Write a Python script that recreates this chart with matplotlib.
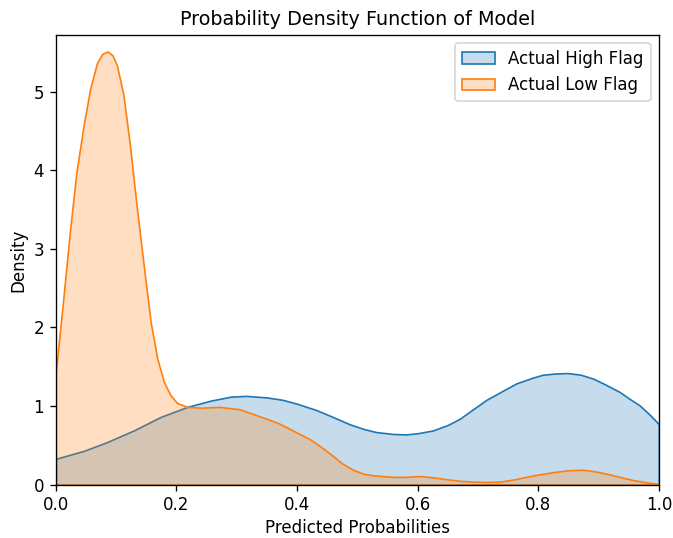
import matplotlib
matplotlib.use("Agg")
import matplotlib.pyplot as plt
import numpy as np

# density curves (x = predicted probability, y = density)
high_x = [0.0, 0.046, 0.084, 0.129, 0.173, 0.218, 0.257, 0.29, 0.316, 0.35, 0.376,
          0.40, 0.432, 0.46, 0.487, 0.51, 0.531, 0.56, 0.581, 0.60, 0.625, 0.65,
          0.670, 0.69, 0.714, 0.74, 0.764, 0.79, 0.808, 0.83, 0.849, 0.87,
          0.891, 0.91, 0.935, 0.95, 0.968, 0.985, 1.0]
high_y = [0.33, 0.43, 0.54, 0.69, 0.86, 0.99, 1.07, 1.12, 1.13, 1.11, 1.08,
          1.03, 0.95, 0.86, 0.77, 0.71, 0.67, 0.645, 0.64, 0.655, 0.69, 0.76,
          0.84, 0.95, 1.08, 1.19, 1.29, 1.36, 1.40, 1.415, 1.42, 1.40,
          1.35, 1.28, 1.18, 1.10, 1.01, 0.89, 0.77]

low_x = [0.0, 0.012, 0.023, 0.034, 0.046, 0.057, 0.068, 0.077, 0.086, 0.094, 0.101,
         0.112, 0.123, 0.134, 0.146, 0.157, 0.168, 0.179, 0.19, 0.201, 0.218,
         0.24, 0.271, 0.305, 0.349, 0.37, 0.388, 0.421, 0.44, 0.459, 0.475,
         0.493, 0.51, 0.526, 0.559, 0.58, 0.603, 0.625, 0.648, 0.67, 0.692,
         0.714, 0.736, 0.758, 0.780, 0.80, 0.825, 0.85, 0.874, 0.895, 0.919,
         0.94, 0.957, 0.98, 1.0]
low_y = [1.44, 2.34, 3.2, 3.97, 4.57, 5.04, 5.36, 5.48, 5.51, 5.46, 5.34,
         4.96, 4.31, 3.54, 2.77, 2.08, 1.61, 1.31, 1.14, 1.04, 0.99,
         0.98, 0.99, 0.96, 0.84, 0.78, 0.71, 0.58, 0.48, 0.37, 0.27,
         0.19, 0.14, 0.12, 0.10, 0.10, 0.11, 0.095, 0.07, 0.05, 0.04,
         0.035, 0.04, 0.065, 0.10, 0.13, 0.16, 0.185, 0.19, 0.17, 0.13,
         0.09, 0.06, 0.03, 0.01]

labels = ["Actual High Flag", "Actual Low Flag"]
colors = ["#1f77b4", "#ff7f0e"]

fig = plt.figure(figsize=(673 / 120, 538 / 120), dpi=120)
ax = fig.add_axes([0.083, 0.099, 0.896, 0.836])

for xs, ys, c, lab in [(high_x, high_y, colors[0], labels[0]),
                       (low_x, low_y, colors[1], labels[1])]:
    ax.fill_between(xs, 0, ys, facecolor=matplotlib.colors.to_rgba(c, 0.25),
                    edgecolor=c, linewidth=1.0, label=lab)

ax.set_xlim(0, 1)
ax.set_ylim(0, 5.72)
ax.set_xticks([0.0, 0.2, 0.4, 0.6, 0.8, 1.0])
ax.set_title("Probability Density Function of Model", fontsize=11.5)
ax.set_xlabel("Predicted Probabilities", labelpad=2.5)
ax.set_ylabel("Density")
ax.legend(loc="upper right")

fig.savefig("out.png", dpi=120)
